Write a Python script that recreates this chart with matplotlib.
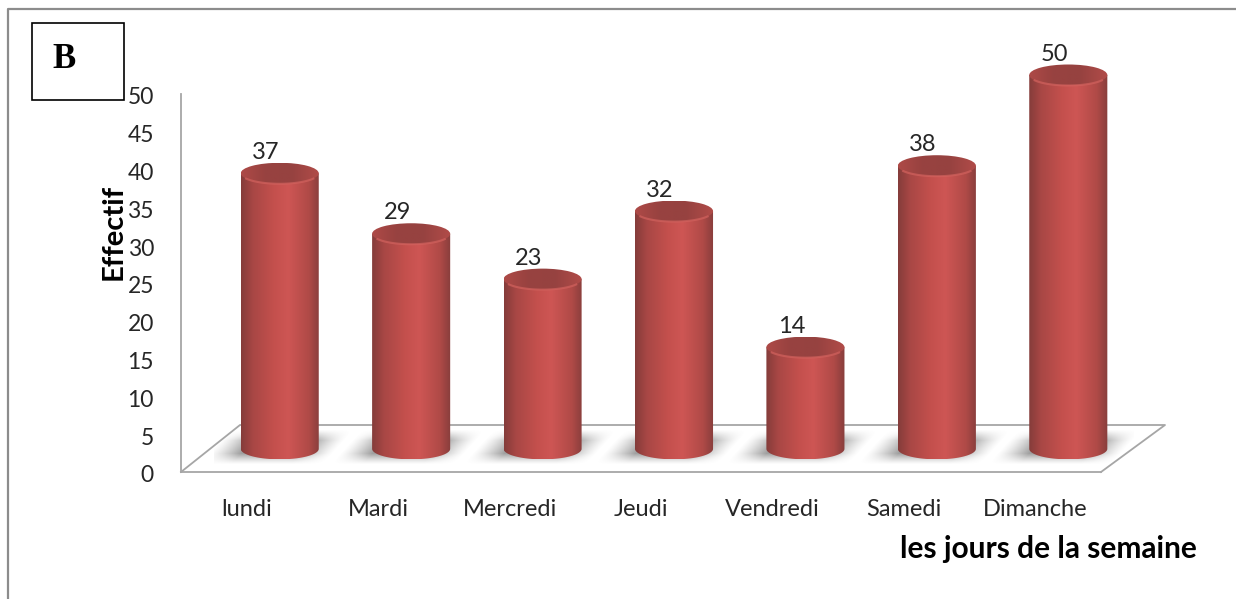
import numpy as np
import matplotlib
matplotlib.use('Agg')
import matplotlib.pyplot as plt
from matplotlib.colors import LinearSegmentedColormap
from matplotlib.patches import PathPatch, Ellipse, Rectangle
from matplotlib.path import Path
from matplotlib.transforms import ScaledTranslation

# Data
jours = ['lundi', 'Mardi', 'Mercredi', 'Jeudi', 'Vendredi', 'Samedi', 'Dimanche']
effectif = [37, 29, 23, 32, 14, 38, 50]
yticks = [0, 5, 10, 15, 20, 25, 30, 35, 40, 45, 50]

W, H = 1236, 599
plt.rcParams['font.family'] = ['Lato', 'DejaVu Sans']

# Look of the cylinders
px_per_unit = 7.56
bar_w = 0.594
semi_y = 10.5 / px_per_unit
base = 0.55
body = LinearSegmentedColormap.from_list('body', [
    (0.0, '#843c3a'), (0.15, '#a84745'), (0.42, '#c4504d'),
    (0.6, '#ce5654'), (0.86, '#b04a47'), (1.0, '#873e3c')])
lid = LinearSegmentedColormap.from_list('lid', [
    (0.0, '#ae4a47'), (0.3, '#984240'), (0.65, '#964240'), (1.0, '#b24c49')])
grad = np.linspace(0, 1, 256).reshape(1, -1)

# Blurred floor shadow, a slanted blob around the foot of a cylinder (pixels)
sx = np.arange(-85, 86)
sy = np.arange(-22, 26)
gx, gy = np.meshgrid(sx, sy)
skew = gx - 0.9 * gy + 4.5
shade = np.clip((46 - np.abs(skew)) / 32 + 0.5, 0, 1) * np.clip((12 - np.abs(gy - 1.5)) / 11 + 0.5, 0, 1)
shadow_img = np.zeros(gx.shape + (4,))
shadow_img[..., :3] = 0.5
shadow_img[..., 3] = 0.75 * shade ** 1.3


def axes_px(left, right, bottom, top):
    return [left / W, 1 - bottom / H, (right - left) / W, (bottom - top) / H]


fig = plt.figure(figsize=(W / 100, H / 100), dpi=100, facecolor='white')

# Frame, floor and the B box, in pixels
deco = fig.add_axes([0, 0, 1, 1], zorder=0)
deco.set_xlim(0, W)
deco.set_ylim(H, 0)
deco.axis('off')
deco.plot([8, 8, W], [H, 9, 9], color='#8c8c8c', lw=1.6)
deco.plot([181, 240, 1165, 1101], [472, 425, 425, 472], color='#a6a6a6', lw=1.3)
deco.add_patch(Rectangle((32, 23), 92, 77, fc='white', ec='black', lw=1.2))
deco.text(64, 59, 'B', family='Liberation Serif', weight='bold', fontsize=25,
          ha='center', va='center')

# Front plane: value axis and category labels
ax = fig.add_axes(axes_px(181, 1101, 472, 94), zorder=1)
ax.patch.set_alpha(0)
ax.set_xlim(-0.5, 6.5)
ax.set_ylim(0, 50)
ax.set_xticks(range(len(jours)), jours)
ax.set_yticks(yticks)
ax.tick_params(axis='both', length=0, labelsize=17, labelcolor='#262626')
ax.tick_params(axis='y', pad=19.5, labelsize=16.5)
ax.tick_params(axis='x', pad=19.5)
# the value labels sit a little lower than the axis positions
shift_down = ScaledTranslation(0, -1.3 / 72, fig.dpi_scale_trans)
for lab in ax.get_yticklabels():
    lab.set_transform(lab.get_transform() + shift_down)
for s in ['top', 'right']:
    ax.spines[s].set_visible(False)
for s in ['left', 'bottom']:
    ax.spines[s].set_color('#a6a6a6')
    ax.spines[s].set_linewidth(1.3)
ax.set_ylabel('Effectif', fontsize=21, weight='bold', color='black')
ax.yaxis.set_label_coords(-54 / 920, (472 - 232) / 378)
ax.set_xlabel('les jours de la semaine', fontsize=21.5, weight='bold', color='black')
ax.xaxis.set_label_coords((1048 - 181) / 920, (472 - 549) / 378, ax.transAxes)
ax.xaxis.label.set_va('center')

# Plane of the cylinders, pushed back on the floor
ax3 = fig.add_axes(axes_px(214, 1134, 453 + 2 * px_per_unit, 2.4), zorder=2)
ax3.patch.set_alpha(0)
ax3.axis('off')

t = np.linspace(0, np.pi, 60)
px_x = 1 / 131.4
px_y = 1 / px_per_unit
for i, v in enumerate(effectif):
    # soft shadow on the floor
    ax3.imshow(shadow_img, origin='lower', aspect='auto', zorder=1, interpolation='bilinear',
               extent=[i + sx[0] * px_x, i + sx[-1] * px_x, base + sy[0] * px_y, base + sy[-1] * px_y])

    # body of the cylinder
    xs = i - bar_w / 2 * np.cos(t)
    ys = base - semi_y * np.sin(t)
    verts = list(zip(xs, ys)) + [(i + bar_w / 2, v), (i - bar_w / 2, v)]
    clip = PathPatch(Path(verts + [verts[0]]), transform=ax3.transData, fc='none', ec='none')
    ax3.add_patch(clip)
    im = ax3.imshow(grad, cmap=body, aspect='auto', zorder=3,
                    extent=[i - bar_w / 2, i + bar_w / 2, base - semi_y, v + semi_y])
    im.set_clip_path(clip)

    # lid
    top = Ellipse((i, v), bar_w, 2 * semi_y, transform=ax3.transData, fc='none', ec='none')
    ax3.add_patch(top)
    im2 = ax3.imshow(grad, cmap=lid, aspect='auto', zorder=4,
                     extent=[i - bar_w / 2, i + bar_w / 2, v - semi_y, v + semi_y])
    im2.set_clip_path(top)
    ax3.plot(i - bar_w / 2 * np.cos(t[10:50]), v - semi_y * np.sin(t[10:50]),
             color='#d2625e', lw=1.5, alpha=0.7, zorder=5)

    ax3.annotate(str(v), (i, v), xytext=(-10, 15), textcoords='offset points',
                 ha='center', va='center', fontsize=17, color='#262626', zorder=6)

ax3.set_xlim(-0.5, 6.5)
ax3.set_ylim(-2, (453 - 2.4) / px_per_unit)

fig.savefig('out.png', dpi=100)
